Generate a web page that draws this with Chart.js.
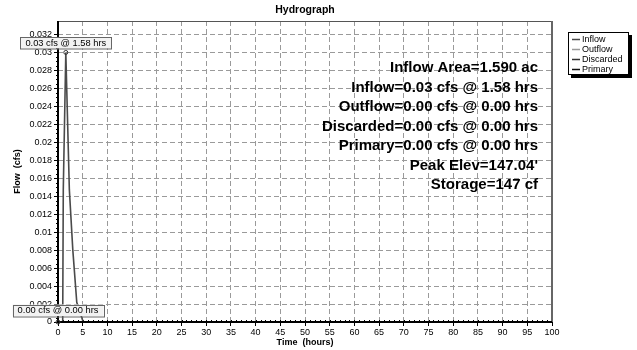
<!DOCTYPE html>
<html>
<head>
<meta charset="utf-8">
<script src="https://cdn.jsdelivr.net/npm/chart.js@4.4.1/dist/chart.umd.min.js"></script>
<style>
  html, body { margin: 0; padding: 0; background: #fff; }
  #wrap { width: 637px; height: 350px; position: relative; }
</style>
</head>
<body>
<div id="wrap"><canvas id="c" width="637" height="350"></canvas></div>
<script>
// ---- data ----
const chartTitle = 'Hydrograph';
const xTitle = 'Time  (hours)';
const yTitle = 'Flow  (cfs)';
const inflowTime = [0, 0.95, 1.07, 1.58, 2.3, 3.0, 3.8, 5.1, 100];
const inflowFlow = [0, 0, 0.0147, 0.03, 0.0147, 0.008, 0.0022, 0, 0];
const zeroTime = [0, 100];
const outflowFlow = [0, 0];
const discardedFlow = [0, 0];
const primaryFlow = [0, 0];
const seriesNames = ['Inflow', 'Outflow', 'Discarded', 'Primary'];
const seriesColors = ['#4a4a4a', '#9a9a9a', '#333333', '#111111'];
const yTicks = [0, 0.002, 0.004, 0.006, 0.008, 0.01, 0.012, 0.014, 0.016, 0.018, 0.02, 0.022, 0.024, 0.026, 0.028, 0.03, 0.032];
const yTickLabels = ['0', '0.002', '0.004', '0.006', '0.008', '0.01', '0.012', '0.014', '0.016', '0.018', '0.02', '0.022', '0.024', '0.026', '0.028', '0.03', '0.032'];
const xTicks = [0, 5, 10, 15, 20, 25, 30, 35, 40, 45, 50, 55, 60, 65, 70, 75, 80, 85, 90, 95, 100];
const yMax = 0.0335;
const summaryLines = [
  'Inflow Area=1.590 ac',
  'Inflow=0.03 cfs @ 1.58 hrs',
  'Outflow=0.00 cfs @ 0.00 hrs',
  'Discarded=0.00 cfs @ 0.00 hrs',
  'Primary=0.00 cfs @ 0.00 hrs',
  'Peak Elev=147.04\'',
  'Storage=147 cf'
];
const annX = [1.58, 0];
const annY = [0.03, 0];
const annText = ['0.03 cfs @ 1.58 hrs', '0.00 cfs @ 0.00 hrs'];

const FONT = "'Liberation Sans', Arial, sans-serif";

function pts(xs, ys) { return xs.map((x, i) => ({ x: x, y: ys[i] })); }

const decorPlugin = {
  id: 'decor',
  beforeDatasetsDraw(chart) {
    const { ctx, chartArea: a, scales: { x, y } } = chart;
    ctx.save();
    // minor ticks y
    ctx.strokeStyle = '#000';
    ctx.lineWidth = 1;
    ctx.beginPath();
    for (let v = 0; v <= 0.0325; v += 0.0005) {
      const py = Math.round(y.getPixelForValue(v)) + 0.5;
      ctx.moveTo(a.left - 2, py); ctx.lineTo(a.left, py);
    }
    for (let v = 0; v <= 100; v += 1) {
      const px = Math.round(x.getPixelForValue(v)) + 0.5;
      ctx.moveTo(px, a.bottom); ctx.lineTo(px, a.bottom - 2);
    }
    ctx.stroke();
    ctx.restore();
  },
  afterDraw(chart) {
    const { ctx, chartArea: a, scales: { x, y } } = chart;
    ctx.save();
    // frame top & right
    ctx.strokeStyle = '#555';
    ctx.lineWidth = 1;
    ctx.beginPath();
    ctx.moveTo(a.left, a.top + 0.5); ctx.lineTo(a.right, a.top + 0.5);
    ctx.stroke();
    ctx.lineWidth = 2;
    ctx.strokeStyle = '#666';
    ctx.beginPath();
    ctx.moveTo(a.right, a.top); ctx.lineTo(a.right, a.bottom);
    ctx.stroke();
    // axes lines (left, bottom) on top
    ctx.strokeStyle = '#000';
    ctx.lineWidth = 2;
    ctx.beginPath();
    ctx.moveTo(a.left, a.top); ctx.lineTo(a.left, a.bottom + 1);
    ctx.moveTo(a.left - 1, a.bottom); ctx.lineTo(a.right, a.bottom);
    ctx.stroke();

    // title
    ctx.fillStyle = '#000';
    ctx.font = 'bold 10.5px ' + FONT;
    ctx.textAlign = 'center';
    ctx.textBaseline = 'middle';
    ctx.fillText(chartTitle, (a.left + a.right) / 2, 10);

    // summary text
    ctx.font = 'bold 15px ' + FONT;
    ctx.textAlign = 'right';
    ctx.textBaseline = 'middle';
    summaryLines.forEach((t, i) => {
      ctx.fillText(t, 538, 68 + i * 19.55);
    });

    // annotations
    ctx.font = '9.3px ' + FONT;
    ctx.textAlign = 'center';
    annText.forEach((t, i) => {
      const px = x.getPixelForValue(annX[i]);
      const py = y.getPixelForValue(annY[i]);
      const w = 91, h = 11.5;
      const bottom = py - (i === 0 ? 4 : 6);
      const left = px - w / 2;
      ctx.fillStyle = '#f2f2f2';
      ctx.fillRect(left, bottom - h, w, h);
      ctx.strokeStyle = '#666';
      ctx.lineWidth = 1;
      ctx.strokeRect(Math.round(left) + 0.5, Math.round(bottom - h) + 0.5, w, h);
      ctx.fillStyle = '#000';
      ctx.fillText(t, px, bottom - h / 2 + 0.5);
      ctx.beginPath();
      ctx.arc(px, py, 2, 0, Math.PI * 2);
      ctx.strokeStyle = '#333';
      ctx.stroke();
    });

    // legend
    const lx = 568, ly = 32, lw = 61, lh = 43;
    ctx.fillStyle = '#000';
    ctx.fillRect(lx + 3, ly + 3, lw, lh);
    ctx.fillStyle = '#fff';
    ctx.fillRect(lx, ly, lw, lh);
    ctx.strokeStyle = '#000';
    ctx.lineWidth = 1;
    ctx.strokeRect(lx + 0.5, ly + 0.5, lw - 1, lh - 1);
    ctx.font = '9px ' + FONT;
    ctx.textAlign = 'left';
    ctx.textBaseline = 'middle';
    seriesNames.forEach((n, i) => {
      const yy = ly + 7.5 + i * 10;
      ctx.strokeStyle = seriesColors[i];
      ctx.lineWidth = 1.5;
      ctx.beginPath();
      ctx.moveTo(lx + 4, yy); ctx.lineTo(lx + 12, yy);
      ctx.stroke();
      ctx.fillStyle = '#000';
      ctx.fillText(n, lx + 14, yy + 0.5);
    });
    ctx.restore();
  }
};

new Chart(document.getElementById('c'), {
  type: 'line',
  data: {
    datasets: [
      { label: seriesNames[3], data: pts(zeroTime, primaryFlow), borderColor: seriesColors[3], borderWidth: 1, pointRadius: 0 },
      { label: seriesNames[2], data: pts(zeroTime, discardedFlow), borderColor: seriesColors[2], borderWidth: 1, pointRadius: 0 },
      { label: seriesNames[1], data: pts(zeroTime, outflowFlow), borderColor: seriesColors[1], borderWidth: 1, pointRadius: 0 },
      { label: seriesNames[0], data: pts(inflowTime, inflowFlow), borderColor: seriesColors[0], borderWidth: 1.6, pointRadius: 0 }
    ]
  },
  options: {
    responsive: false,
    animation: false,
    devicePixelRatio: 1,
    layout: { padding: { top: 21, right: 85, left: 0, bottom: 0 } },
    plugins: { legend: { display: false }, title: { display: false }, tooltip: { enabled: false } },
    elements: { line: { tension: 0 } },
    scales: {
      x: {
        type: 'linear', min: 0, max: 100,
        afterBuildTicks: s => { s.ticks = xTicks.map(v => ({ value: v })); },
        afterFit: s => { s.height = 28; },
        ticks: { font: { family: FONT, size: 9 }, color: '#000', padding: 1, maxRotation: 0, autoSkip: false },
        grid: { color: '#9a9a9a', lineWidth: 1, drawTicks: true, tickLength: 4, tickColor: '#000', tickBorderDash: [] },
        border: { display: false, dash: [5, 3] },
        title: { display: true, text: xTitle, font: { family: FONT, size: 9, weight: 'bold' }, color: '#000', padding: { top: 0, bottom: 1.6 } }
      },
      y: {
        type: 'linear', min: 0, max: yMax,
        afterBuildTicks: s => { s.ticks = yTicks.map(v => ({ value: v })); },
        afterFit: s => { s.width = 58; },
        ticks: {
          font: { family: FONT, size: 9 }, color: '#000', padding: 2, autoSkip: false,
          callback: (v, i) => yTickLabels[i]
        },
        grid: { color: '#9a9a9a', lineWidth: 1, drawTicks: true, tickLength: 4, tickColor: '#000', tickBorderDash: [] },
        border: { display: false, dash: [5, 3] },
        title: { display: true, text: yTitle, font: { family: FONT, size: 9, weight: 'bold' }, color: '#000', padding: { top: 12.6, bottom: 0 } }
      }
    }
  },
  plugins: [decorPlugin]
});
</script>
</body>
</html>
